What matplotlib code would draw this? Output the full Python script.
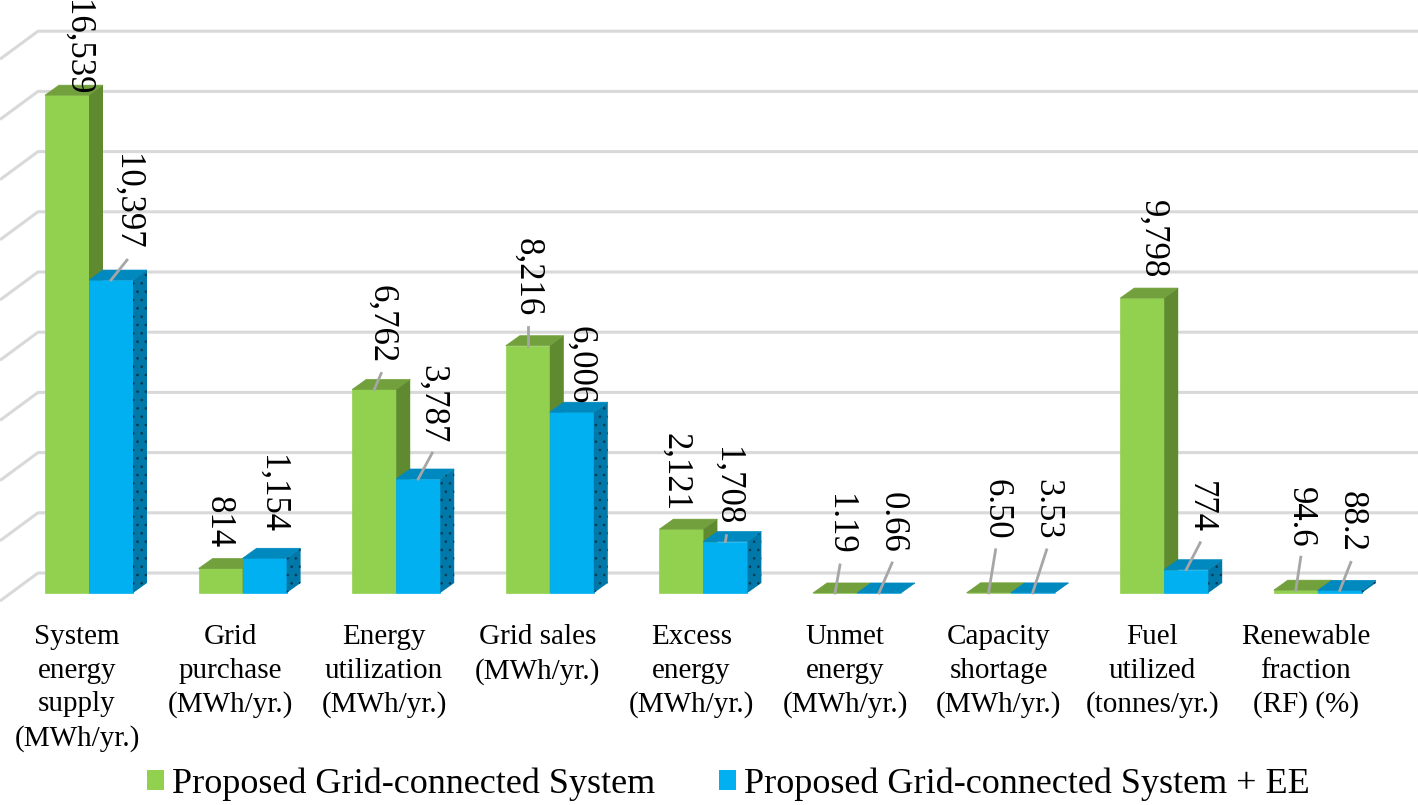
"""
Grid-connected system vs. grid-connected system + EE: key energy indicators
drawn as an Excel-style 3-D clustered column chart.
"""
import matplotlib
matplotlib.use("Agg")
import matplotlib.pyplot as plt  # noqa: E402
from matplotlib.patches import Polygon, Patch  # noqa: E402

plt.rcParams["font.family"] = ["Liberation Serif", "DejaVu Serif"]
plt.rcParams["hatch.color"] = "#08394d"
plt.rcParams["hatch.linewidth"] = 0.6

# ---- data ---------------------------------------------------------------
categories = [
    "System\nenergy\nsupply\n(MWh/yr.)",
    "Grid\npurchase\n(MWh/yr.)",
    "Energy\nutilization\n(MWh/yr.)",
    "Grid sales\n(MWh/yr.)",
    "Excess\nenergy\n(MWh/yr.)",
    "Unmet\nenergy\n(MWh/yr.)",
    "Capacity\nshortage\n(MWh/yr.)",
    "Fuel\nutilized\n(tonnes/yr.)",
    "Renewable\nfraction\n(RF) (%)",
]
series_names = ["Proposed Grid-connected System",
                "Proposed Grid-connected System + EE"]
green_vals = [16539, 814, 6762, 8216, 2121, 1.19, 6.50, 9798, 94.6]
blue_vals = [10397, 1154, 3787, 6006, 1708, 0.66, 3.53, 774, 88.2]
green_labels = ["16,539", "814", "6,762", "8,216", "2,121", "1.19", "6.50", "9,798", "94.6"]
blue_labels = ["10,397", "1,154", "3,787", "6,006", "1,708", "0.66", "3.53", "774", "88.2"]

# label layout in px: lift of text end above bar top, sideways nudge, leader line
green_lift = [0, 20, 26, 29, 18, 38, 53, 20, 43]
green_nudge = [3, -9, 0, -7, -13, -2, 0, 3, -2]
green_leader = [False, False, True, True, False, True, True, False, True]
blue_lift = [30, 25, 36, 8, 16, 40, 53, 37, 38]
blue_nudge = [9, 0, 7, 1, -6, 6, 7, 7, 4]
blue_leader = [True, False, True, False, True, True, True, True, True]

GREEN = ("#92d050", "#72a03c", "#5f8a30")   # front, top, side
BLUE = ("#00b0f0", "#0089bf", "#0079aa")

# ---- geometry (pixels) ----------------------------------------------------
W, H = 1418, 805
X0, STEP = 89, 153.6      # first category centre, category spacing
Y0, PPK = 593, 30.1       # floor (front) row, px per 1000 units
BAR_W, DX, DY = 44, 14, 10
WALL_DX, WALL_DY = 51, 20  # back wall relative to bar front
SLANT_DX, SLANT_DY = 38, 28

fig = plt.figure(figsize=(W / 100, H / 100), dpi=100)
ax = fig.add_axes([0, 0, 1, 1])
ax.set_axis_off()
ax.set_xlim(-X0 / STEP, (W - X0) / STEP)
ax.set_ylim(-(H - Y0) / PPK * 1000, Y0 / PPK * 1000)
px = 1 / STEP
py = 1000 / PPK

# back-wall gridlines with the slanted side-wall part
x_corner = -WALL_DX * px
x_left = ax.get_xlim()[0]
for v in range(0, 20000, 2000):
    yb = v + WALL_DY * py
    ax.plot([x_left, x_corner, ax.get_xlim()[1]],
            [yb - SLANT_DY * py, yb, yb],
            color="#d9d9d9", lw=2.2, zorder=1, solid_capstyle="butt")


def bar3d(xl, h, cols, hatch=None):
    w, dx, dy = BAR_W * px, DX * px, DY * py
    front, top, side = cols
    ax.add_patch(Polygon([(xl, 0), (xl + w, 0), (xl + w, h), (xl, h)],
                         fc=front, ec=front, lw=0.5, zorder=3))
    ax.add_patch(Polygon([(xl, h), (xl + w, h), (xl + w + dx, h + dy), (xl + dx, h + dy)],
                         fc=top, ec=top, lw=0.5, zorder=3))
    ax.add_patch(Polygon([(xl + w, 0), (xl + w + dx, dy), (xl + w + dx, h + dy), (xl + w, h)],
                         fc=side, lw=0, hatch=hatch, zorder=3))


def label(xl, h, text, lift, nudge, leader):
    xt = xl + (BAR_W / 2 + DX / 2 + nudge) * px
    yt = h + lift * py
    ax.text(xt, yt, text, rotation=-90, ha="center", va="bottom",
            fontsize=25, zorder=5)
    if leader:
        ax.plot([xl + BAR_W / 2 * px, xt], [h, yt - 10 * py],
                color="#a6a6a6", lw=2, zorder=4)


for i, cat in enumerate(categories):
    gx = i - BAR_W * px
    bar3d(gx, green_vals[i], GREEN)
    bar3d(i, blue_vals[i], BLUE, hatch="..")
    label(gx, green_vals[i], green_labels[i], green_lift[i], green_nudge[i], green_leader[i])
    label(i, blue_vals[i], blue_labels[i], blue_lift[i], blue_nudge[i], blue_leader[i])
    ax.text(i - 12 * px, -31 * py, cat, ha="center", va="top",
            multialignment="center", fontsize=21, linespacing=1.38)

handles = [Patch(fc=GREEN[0], label=series_names[0]),
           Patch(fc=BLUE[0], label=series_names[1])]
fig.legend(handles=handles, loc="center", bbox_to_anchor=(728 / W, 1 - 784 / H),
           ncol=2, frameon=False, fontsize=26, handlelength=0.47, handleheight=0.5,
           handletextpad=0.22, columnspacing=1.77)

fig.savefig("out.png", dpi=100)
